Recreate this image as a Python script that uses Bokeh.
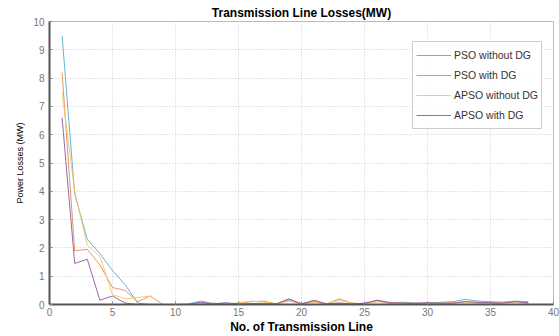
from bokeh.plotting import figure
from bokeh.embed import file_html
from bokeh.resources import INLINE
from bokeh.models import Range1d, FixedTicker, Legend, LegendItem

lines = list(range(1, 39))
pso_without_dg = [9.5, 3.9, 2.3, 1.8, 1.2, 0.7, 0.05, 0.0, 0.0, 0.0, 0.02, 0.12, 0.03, 0.05, 0.0,
                  0.02, 0.05, 0.02, 0.15, 0.03, 0.12, 0.02, 0.05, 0.02, 0.03, 0.12, 0.05, 0.08,
                  0.06, 0.05, 0.08, 0.1, 0.18, 0.12, 0.1, 0.08, 0.12, 0.1]
pso_with_dg = [8.2, 1.9, 1.95, 1.4, 0.6, 0.5, 0.1, 0.3, 0.0, 0.0, 0.0, 0.02, 0.05, 0.0, 0.05,
               0.1, 0.12, 0.02, 0.18, 0.02, 0.1, 0.02, 0.2, 0.05, 0.02, 0.15, 0.08, 0.05,
               0.03, 0.05, 0.03, 0.05, 0.1, 0.05, 0.05, 0.08, 0.1, 0.05]
apso_without_dg = [7.5, 4.0, 2.1, 1.7, 0.35, 0.2, 0.25, 0.3, 0.0, 0.0, 0.0, 0.03, 0.02, 0.02, 0.05,
                   0.12, 0.08, 0.02, 0.12, 0.02, 0.08, 0.02, 0.15, 0.05, 0.02, 0.1, 0.06, 0.04,
                   0.05, 0.04, 0.05, 0.06, 0.08, 0.06, 0.04, 0.06, 0.08, 0.04]
apso_with_dg = [6.6, 1.45, 1.6, 0.15, 0.3, 0.05, 0.0, 0.0, 0.0, 0.0, 0.0, 0.08, 0.02, 0.06, 0.02,
                0.03, 0.02, 0.02, 0.2, 0.02, 0.15, 0.02, 0.05, 0.02, 0.05, 0.15, 0.06, 0.05,
                0.04, 0.06, 0.05, 0.05, 0.1, 0.08, 0.06, 0.05, 0.1, 0.06]

series_names = ["PSO without DG", "PSO with DG", "APSO without DG", "APSO with DG"]
series_values = [pso_without_dg, pso_with_dg, apso_without_dg, apso_with_dg]
colors = ["#5aaad8", "#e58a60", "#f2c860", "#8e5a9e"]

x_ticks = [0, 5, 10, 15, 20, 25, 30, 35, 40]
y_ticks = list(range(0, 11))

p = figure(width=559, height=336, output_backend="svg", toolbar_location=None,
           x_range=Range1d(0, 40), y_range=Range1d(0, 10),
           min_border_left=49, min_border_right=6, min_border_top=21, min_border_bottom=31)

renderers = []
for name, vals, c in zip(series_names, series_values, colors):
    r = p.line(lines, vals, line_color=c, line_width=1, line_alpha=0.9)
    renderers.append((name, r))

p.title.text = "Transmission Line Losses(MW)"
p.title.align = "center"
p.title.text_font = "Liberation Sans"
p.title.text_font_size = "12px"
p.title.text_font_style = "bold"
p.title.text_color = "#000000"
p.title.offset = 0
p.title.standoff = 3

for ax in (p.xaxis[0], p.yaxis[0]):
    ax.major_tick_in = 3
    ax.major_tick_out = 0
    ax.minor_tick_in = 0
    ax.minor_tick_out = 0
    ax.axis_line_color = "#555555"
    ax.axis_line_width = 2
    ax.major_tick_line_color = "#888888"
    ax.major_label_text_font = "Liberation Sans"
    ax.major_label_text_font_size = "10px"
    ax.major_label_text_color = "#777777"
    ax.axis_label_text_font = "Liberation Sans"
    ax.axis_label_text_color = "#000000"

p.xaxis[0].ticker = FixedTicker(ticks=x_ticks)
p.yaxis[0].ticker = FixedTicker(ticks=y_ticks)
p.xaxis[0].axis_label = "No. of Transmission Line"
p.xaxis[0].axis_label_text_font_style = "bold"
p.xaxis[0].axis_label_text_font_size = "12px"
p.xaxis[0].axis_label_standoff = 1
p.xaxis[0].major_label_standoff = 3
p.yaxis[0].axis_label = "Power Losses (MW)"
p.yaxis[0].axis_label_text_font_style = "normal"
p.yaxis[0].axis_label_text_font_size = "9px"
p.yaxis[0].axis_label_standoff = 5
p.yaxis[0].major_label_standoff = 5

p.xgrid.grid_line_color = "#cccccc"
p.xgrid.grid_line_dash = "1 2"
p.ygrid.grid_line_color = "#cccccc"
p.ygrid.grid_line_dash = "1 2"

p.outline_line_color = "#bbbbbb"
p.outline_line_width = 1

legend = Legend(items=[LegendItem(label=n, renderers=[r]) for n, r in renderers],
                location=(363, 175))
legend.label_text_font = "Liberation Sans"
legend.label_text_font_size = "10.5px"
legend.label_text_color = "#333333"
legend.glyph_width = 35
legend.glyph_height = 20
legend.label_height = 20
legend.spacing = 0
legend.padding = 3
legend.margin = 0
legend.label_standoff = 3
legend.border_line_color = "#999999"
legend.border_line_width = 1
legend.background_fill_color = "white"
p.add_layout(legend, "center")

open("out.html", "w").write(file_html(p, INLINE))
